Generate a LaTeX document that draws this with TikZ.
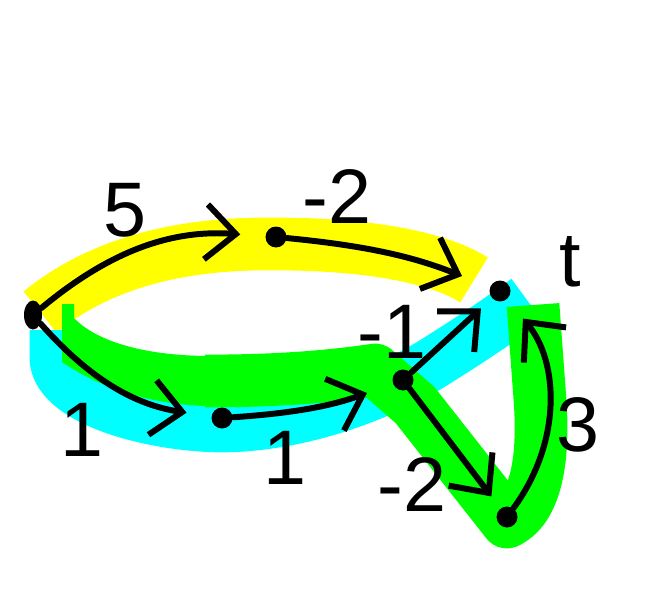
\documentclass[tikz,border=0pt]{standalone}
\usepackage{fontspec}
\setmainfont{Liberation Sans}
\usepackage{xcolor}
\usetikzlibrary{arrows.meta, shapes.geometric}
\definecolor{MarkerYellow}{HTML}{FFFF00}
\definecolor{MarkerCyan}{HTML}{00FFFF}
\definecolor{MarkerGreen}{HTML}{00FF00}
\tikzset{
    dot/.style={circle, fill=black, inner sep=0pt, minimum size=0.42cm},
    edge/.style={line width=3.4pt, line cap=round, -{Straight Barb[length=0.6cm, width=1.1cm, line width=3.4pt]}},
    band/.style={line width=30pt, line join=round},
    weight/.style={font=\fontsize{44}{50}\selectfont}
}

\begin{document}
\begin{tikzpicture}[x=0.02cm, y=-0.02cm]
        \useasboundingbox (0,0) rectangle (671,591);

        % Highlighted paths
        \draw[band, MarkerYellow] (40,312) .. controls (110,255) and (200,243) .. (276,244)
            .. controls (370,244) and (440,258) .. (474,280);
        \draw[band, MarkerCyan] (56,330) -- (56,360) .. controls (60,400) and (150,425) .. (220,426)
            .. controls (300,426) and (380,395) .. (430,365) .. controls (470,340) and (500,320) .. (527,300);
        \fill[MarkerGreen] (62,304) -- (74,304) -- (74,318) .. controls (95,340) and (140,355) .. (205,356)
            -- (225,356) -- (225,406) -- (205,406) .. controls (150,404) and (100,388) .. (62,362) -- cycle;
        \draw[band, MarkerGreen] (205,381) .. controls (290,381) and (340,375) .. (375,370) -- (415,405) -- (507,522)
            .. controls (532,510) and (545,470) .. (540,400) -- (533,305);

        % Vertices
        \node[ellipse, fill=black, inner sep=0pt, minimum width=0.36cm, minimum height=0.58cm] (s) at (33,315) {};
        \node[dot] (a) at (276,237) {};
        \node[dot] (t) at (500,291) {};
        \node[dot] (b) at (222,418) {};
        \node[dot] (c) at (403,380) {};
        \node[dot] (d) at (507,517) {};

        % Edges
        \draw[edge, shorten >=0.5cm] (s) to[bend left=22] (a);
        \draw[edge, shorten >=0.6cm] (a) to[bend left=8] (t);
        \draw[edge, shorten >=0.5cm] (s) to[bend right=20] (b);
        \draw[edge, shorten >=0.55cm] (b) to[bend right=8] (c);
        \draw[edge, shorten >=0.3cm] (c) -- (t);
        \draw[edge, shorten >=0.3cm] (c) -- (d);
        \draw[edge, shorten >=0.5cm] (d) to[bend right=38] (t);

        % Weights
        \node[weight] (w1) at (125,210) {5};
        \node[weight] (w2) at (337,197) {-2};
        \node[weight] (tl) at (570,262) {t};
        \node[weight] (w3) at (82,430) {1};
        \node[weight] (w4) at (285,458) {1};
        \node[weight] (w5) at (392,332) {-1};
        \node[weight] (w6) at (412,485) {-2};
        \node[weight] (w7) at (578,425) {3};
    \end{tikzpicture}
\end{document}
